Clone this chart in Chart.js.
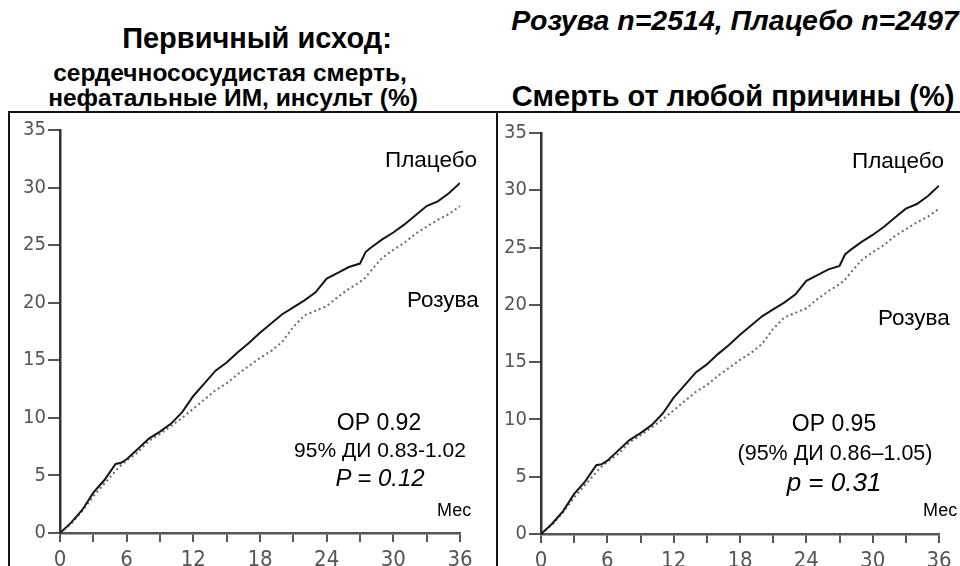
<!DOCTYPE html>
<html>
<head>
<meta charset="utf-8">
<script src="https://cdn.jsdelivr.net/npm/chart.js@4.4.1/dist/chart.umd.min.js"></script>
<style>
  html, body { margin: 0; padding: 0; background: #fff; }
  body { width: 960px; height: 566px; position: relative; overflow: hidden; font-family: "Liberation Sans", Arial, sans-serif; color: #000; }
  .t { position: absolute; white-space: nowrap; line-height: 1; }
  .c { text-align: center; width: 600px; }
  .b { font-weight: bold; }
  .i { font-style: italic; }
  canvas { position: absolute; }
  .frame { position: absolute; left: 8px; top: 111px; width: 960px; height: 460px; border-left: 2px solid #111; border-top: 2px solid #111; }
  .divider { position: absolute; left: 496px; top: 111px; width: 2px; height: 460px; background: #111; }
</style>
</head>
<body>
<div class="frame"></div>
<div class="divider"></div>

<div class="t c b" style="left:-43px; top:24px; font-size:29px;">Первичный исход:</div>
<div class="t c b" style="left:-70px; top:61px; font-size:24.5px;">сердечнососудистая смерть,</div>
<div class="t c b" style="left:-67px; top:86px; font-size:24.5px;">нефатальные ИМ, инсульт (%)</div>
<div class="t c b i" style="left:435px; top:6px; font-size:28.5px;">Розува n=2514, Плацебо n=2497</div>
<div class="t c b" style="left:433px; top:82px; font-size:29px;">Смерть от любой причины (%)</div>

<canvas id="left" width="488" height="454" style="left:9px; top:112px; width:488px; height:454px;"></canvas>
<canvas id="right" width="463" height="454" style="left:497px; top:112px; width:463px; height:454px;"></canvas>

<div class="t" style="left:385px; top:149px; font-size:22.5px;">Плацебо</div>
<div class="t" style="left:407px; top:289px; font-size:22.5px;">Розува</div>
<div class="t c" style="left:79px; top:411px; font-size:23px;">ОР 0.92</div>
<div class="t c" style="left:80px; top:439px; font-size:21px;">95% ДИ 0.83-1.02</div>
<div class="t c i" style="left:80px; top:466px; font-size:24px;">P = 0.12</div>
<div class="t" style="left:437px; top:501px; font-size:18px;">Мес</div>

<div class="t" style="left:852px; top:150px; font-size:22.5px;">Плацебо</div>
<div class="t" style="left:878px; top:307px; font-size:22.5px;">Розува</div>
<div class="t c" style="left:534px; top:412px; font-size:23px;">ОР 0.95</div>
<div class="t c" style="left:535px; top:443px; font-size:21.5px;">(95% ДИ 0.86–1.05)</div>
<div class="t c i" style="left:534px; top:469px; font-size:26px;">p = 0.31</div>
<div class="t" style="left:923px; top:501px; font-size:18px;">Мес</div>

<script>
// cumulative event rate (%) by month
// (both panels in the source picture show the same curves)
const months  = [0, 1, 2, 3, 4, 5, 5.5, 6, 7, 8, 9, 10, 11, 12, 13, 14, 15, 16, 17, 18, 19, 20,
                 21, 22, 23, 24, 25, 26, 27, 27.5, 28, 29, 30, 31, 32, 33, 34, 35, 36];
const placebo = [0, 0.9, 2.0, 3.5, 4.6, 6.0, 6.1, 6.4, 7.3, 8.2, 8.8, 9.5, 10.5, 11.9, 13.0, 14.1, 14.8, 15.7, 16.5, 17.4, 18.2, 19.0,
                 19.6, 20.2, 20.9, 22.1, 22.6, 23.1, 23.4, 24.4, 24.8, 25.5, 26.1, 26.8, 27.6, 28.4, 28.8, 29.5, 30.4];
const rosuva  = [0, 0.8, 1.9, 3.2, 4.3, 5.4, 5.9, 6.3, 7.0, 8.0, 8.6, 9.3, 10.0, 10.8, 11.6, 12.4, 13.0, 13.8, 14.5, 15.2, 15.8, 16.6,
                 17.9, 18.9, 19.3, 19.7, 20.5, 21.2, 21.8, 22.2, 22.8, 23.9, 24.6, 25.2, 26.0, 26.6, 27.2, 27.7, 28.4];
const xLabels = [0, 6, 12, 18, 24, 30, 36];

const yFont = { family: "DejaVu Sans Condensed", size: 20 };
const xFont = { family: "DejaVu Sans Condensed", size: 22 };

function makeChart(id, pad, yWidth, xHeight) {
  const ctx = document.getElementById(id).getContext("2d");
  return new Chart(ctx, {
    type: "line",
    data: {
      datasets: [
        {
          label: "Плацебо",
          data: months.map((m, i) => ({ x: m, y: placebo[i] })),
          borderColor: "#151515",
          borderWidth: 2,
          pointRadius: 0,
          tension: 0,
        },
        {
          label: "Розува",
          data: months.map((m, i) => ({ x: m, y: rosuva[i] })),
          borderColor: "#6a6a6a",
          borderWidth: 2,
          borderDash: [2, 3],
          pointRadius: 0,
          tension: 0,
        },
      ],
    },
    options: {
      responsive: false,
      animation: false,
      layout: { padding: pad },
      plugins: { legend: { display: false }, tooltip: { enabled: false } },
      scales: {
        x: {
          type: "linear",
          min: 0,
          max: 36,
          afterFit: (s) => { s.height = xHeight; },
          border: { color: "#555", width: 2.5 },
          grid: { drawOnChartArea: false, drawTicks: true, tickLength: 9, color: "#555", lineWidth: 2 },
          ticks: {
            stepSize: 3,
            autoSkip: false,
            maxRotation: 0,
            padding: 5,
            color: "#555",
            font: xFont,
            callback: (v) => (xLabels.includes(v) ? String(v) : ""),
          },
        },
        y: {
          min: 0,
          max: 35,
          afterFit: (s) => { s.width = yWidth; },
          border: { color: "#333", width: 2.5 },
          grid: { drawOnChartArea: false, drawTicks: true, tickLength: 12, color: "#555", lineWidth: 2 },
          ticks: { stepSize: 5, padding: 2, color: "#555", font: yFont },
        },
      },
    },
  });
}

makeChart("left", { top: 18, right: 37, left: 0, bottom: 0 }, 51, 33);
makeChart("right", { top: 21, right: 21, left: 0, bottom: 0 }, 44, 32);
</script>
</body>
</html>
